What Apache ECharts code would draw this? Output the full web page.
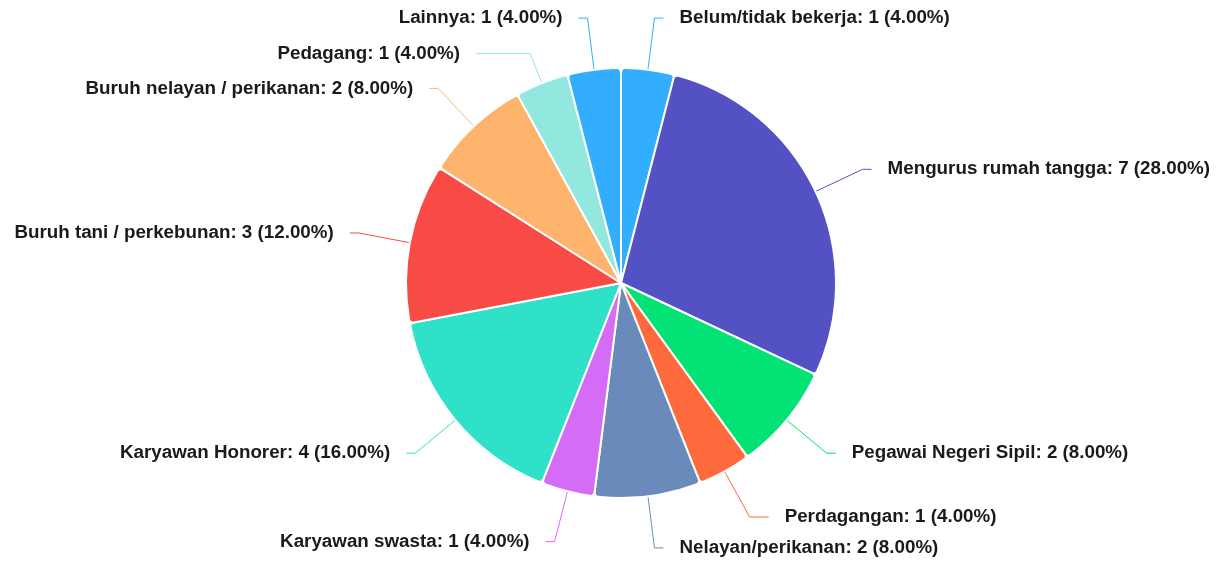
<!DOCTYPE html>
<html>
<head>
<meta charset="utf-8">
<style>
  html, body { margin: 0; padding: 0; background: #fff; }
  #chart { width: 1224px; height: 564px; }
</style>
<script src="https://cdn.jsdelivr.net/npm/echarts@6/dist/echarts.min.js"></script>
</head>
<body>
<div id="chart"></div>
<script>
// pekerjaan, clockwise from 12 o'clock
const categories = [
  "Belum/tidak bekerja",
  "Mengurus rumah tangga",
  "Pegawai Negeri Sipil",
  "Perdagangan",
  "Nelayan/perikanan",
  "Karyawan swasta",
  "Karyawan Honorer",
  "Buruh tani / perkebunan",
  "Buruh nelayan / perikanan",
  "Pedagang",
  "Lainnya",
];
const counts = [1, 7, 2, 1, 2, 1, 4, 3, 2, 1, 1];
const colors = [
  "#33aefe", "#5451c4", "#03e274", "#fe6a3b", "#6a8abb", "#d46cf6",
  "#30e1c9", "#f94b45", "#feb46c", "#92e7df", "#33aefe",
];

// Pedagang label sits lower, under Lainnya, with a long elbow
const lineOverrides = {
  Pedagang: { length: 32, length2: 54 },
  Perdagangan: { length: 52, length2: 19 },
};

const total = counts.reduce((a, b) => a + b, 0);
const chart = echarts.init(document.getElementById("chart"));

chart.setOption({
  animation: false,
  series: [
    {
      type: "pie",
      center: [621, 283],
      radius: [0, 215],
      startAngle: 90,
      clockwise: true,
      avoidLabelOverlap: false,
      itemStyle: { borderColor: "#fff", borderWidth: 2, borderRadius: 4 },
      label: {
        color: "#1a1a1a",
        fontSize: 18.8,
        fontWeight: "bold",
        fontFamily: "'Liberation Sans', Arial, sans-serif",
        distanceToLabelLine: 16,
        formatter: (p) => `${p.name}: ${p.value} (${((p.value / total) * 100).toFixed(2)}%)`,
      },
      labelLine: { length: 52, length2: 9, lineStyle: { width: 1 } },
      data: categories.map((name, i) => ({
        name,
        value: counts[i],
        itemStyle: { color: colors[i] },
        labelLine: lineOverrides[name],
      })),
    },
  ],
});
</script>
</body>
</html>
